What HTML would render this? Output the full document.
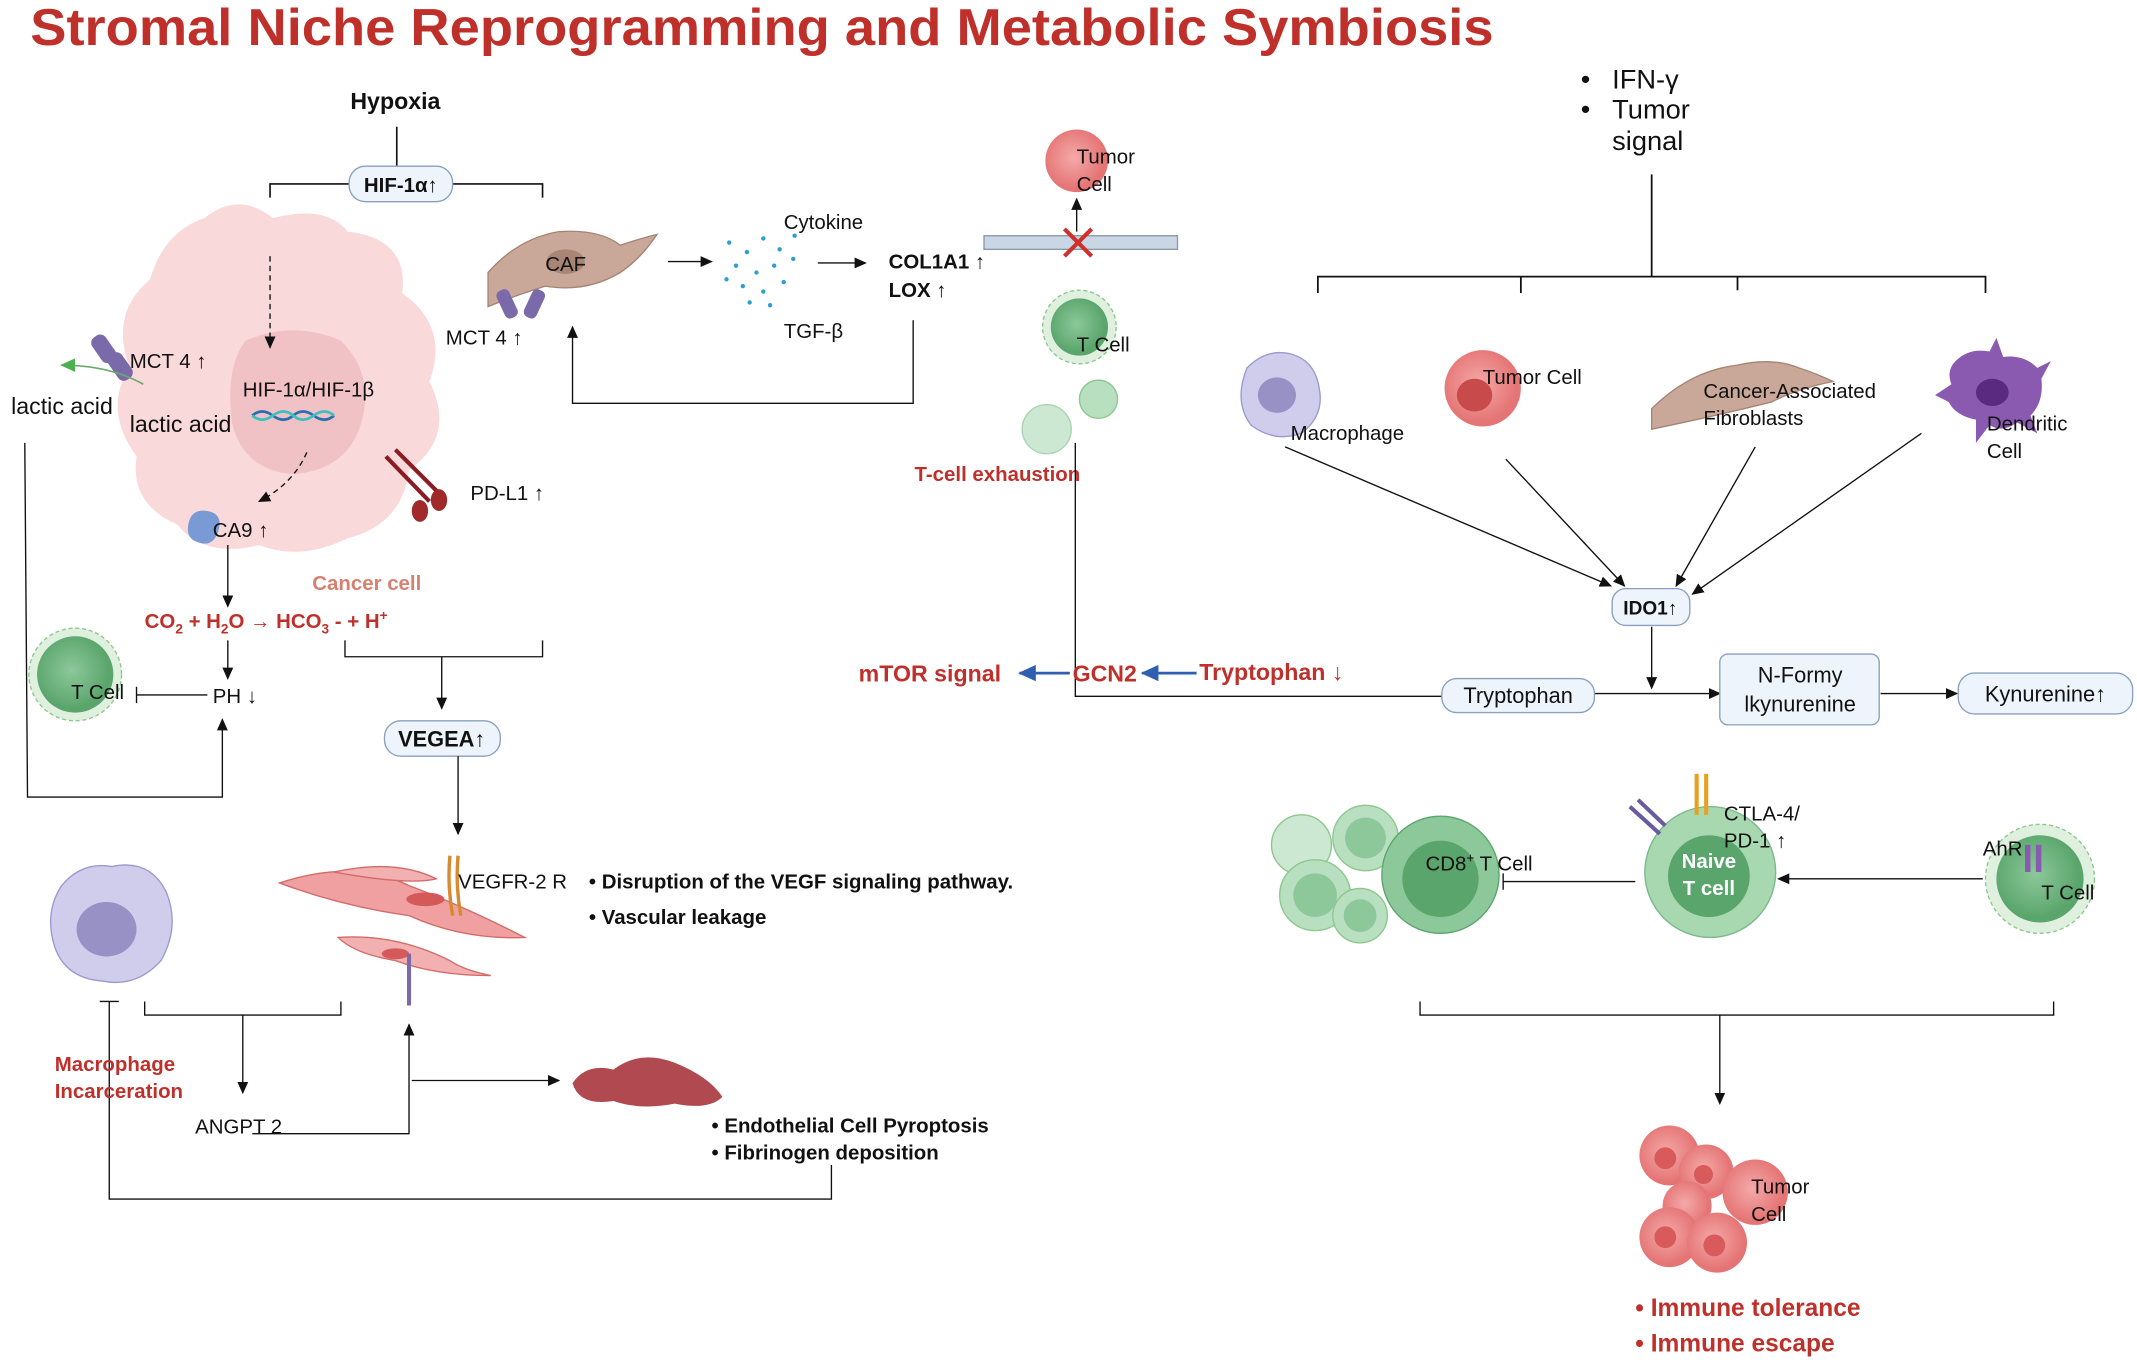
<!DOCTYPE html>
<html><head><meta charset="utf-8"><style>
html,body{margin:0;padding:0;background:#fff;}
svg{display:block;}
text{font-family:"Liberation Sans",sans-serif;fill:#111;}
.b{font-weight:bold;}
.r{fill:#c0302b;}
</style></head><body>
<svg width="2137" height="1368" viewBox="0 0 1568 1004" xmlns="http://www.w3.org/2000/svg">
<defs>
<marker id="a" markerWidth="10" markerHeight="10" refX="8" refY="5" orient="auto" markerUnits="userSpaceOnUse"><path d="M0,1 L9,5 L0,9 z" fill="#111"/></marker>
<marker id="ab" markerWidth="14" markerHeight="12" refX="12" refY="6" orient="auto" markerUnits="userSpaceOnUse"><path d="M0,0 L13,6 L0,12 z" fill="#2f5fb0"/></marker>
<marker id="ag" markerWidth="12" markerHeight="10" refX="10" refY="5" orient="auto" markerUnits="userSpaceOnUse"><path d="M0,0 L11,5 L0,10 z" fill="#4caf50"/></marker>
<radialGradient id="gc" cx="45%" cy="45%"><stop offset="0" stop-color="#8cc89a"/><stop offset="1" stop-color="#5aa56c"/></radialGradient>
<radialGradient id="gp" cx="45%" cy="45%"><stop offset="0" stop-color="#f4a9a9"/><stop offset="1" stop-color="#e57474"/></radialGradient>
</defs>
<text x="22" y="33" font-size="38" class="b r" textLength="1074" lengthAdjust="spacingAndGlyphs">Stromal Niche Reprogramming and Metabolic Symbiosis</text>

<text x="290" y="80" font-size="17" class="b" text-anchor="middle">Hypoxia</text>
<g fill="none" stroke="#111" stroke-width="1.2">
<path d="M291,93 V122 M198,145 V135 H256 M332,135 H398 V145"/>
</g>
<rect x="256" y="122" width="76" height="26" rx="12" fill="#eef4fb" stroke="#8aa0c0"/>
<text x="294" y="141" font-size="15" class="b" text-anchor="middle">HIF-1α↑</text>

<path d="M150,160 Q175,140 200,160 Q240,150 255,170 Q300,175 295,215 Q330,240 315,280 Q335,320 300,345 Q295,385 255,395 Q220,412 190,400 Q150,410 130,385 Q95,370 100,335 Q75,300 95,270 Q80,230 110,205 Q120,170 150,160 z" fill="#f9d9da"/>
<path d="M180,250 Q215,235 250,250 Q275,275 265,310 Q255,345 215,348 Q178,345 170,310 Q165,270 180,250 z" fill="#f0c2c5"/>
<line x1="198" y1="188" x2="198" y2="255" stroke="#111" stroke-dasharray="4,3" marker-end="url(#a)"/>
<text x="178" y="291" font-size="15">HIF-1α/HIF-1β</text>
<path d="M185,305 q7,-6 15,0 t15,0 t15,0 t15,0" fill="none" stroke="#2a6fb0" stroke-width="2"/>
<path d="M185,305 q7,6 15,0 t15,0 t15,0 t15,0" fill="none" stroke="#3cc0c0" stroke-width="2"/>
<path d="M225,332 Q215,355 190,368" fill="none" stroke="#111" stroke-dasharray="4,3" marker-end="url(#a)"/>
<g fill="#7a6aaa"><rect x="70" y="245" width="12" height="22" rx="5" transform="rotate(-35 76 256)"/><rect x="82" y="258" width="12" height="22" rx="5" transform="rotate(-35 88 269)"/></g>
<text x="95" y="270" font-size="15">MCT 4 ↑</text>
<path d="M105,282 Q80,268 45,268" fill="none" stroke="#6aaa6a" stroke-width="1.2" marker-end="url(#ag)"/>
<text x="8" y="304" font-size="17">lactic acid</text>
<text x="95" y="317" font-size="17">lactic acid</text>
<g stroke="#8a1c24" stroke-width="3" fill="none"><path d="M283,335 L315,368 M290,330 L322,362"/></g>
<ellipse cx="308" cy="375" rx="6" ry="8" fill="#a02a2a"/><ellipse cx="322" cy="367" rx="6" ry="8" fill="#a02a2a"/>
<text x="345" y="367" font-size="15">PD-L1 ↑</text>
<path d="M138,385 q2,-12 14,-10 q12,2 8,15 q-4,12 -15,8 q-9,-3 -7,-13z" fill="#7a9ad6"/>
<text x="156" y="394" font-size="15">CA9 ↑</text>
<text x="229" y="433" font-size="15" class="b" style="fill:#d88070">Cancer cell</text>
<line x1="167" y1="400" x2="167" y2="445" stroke="#111" marker-end="url(#a)"/>
<text x="106" y="461" font-size="15" class="b r">CO<tspan font-size="10" dy="4">2</tspan><tspan dy="-4"> + H</tspan><tspan font-size="10" dy="4">2</tspan><tspan dy="-4">O → HCO</tspan><tspan font-size="10" dy="4">3</tspan><tspan dy="-4"> - + H</tspan><tspan font-size="10" dy="-6">+</tspan></text>
<line x1="167" y1="470" x2="167" y2="498" stroke="#111" marker-end="url(#a)"/>
<circle cx="55" cy="495" r="34" fill="#dff0df" stroke="#8cc88c" stroke-dasharray="3,2"/>
<circle cx="55" cy="495" r="28" fill="url(#gc)"/>
<text x="52" y="513" font-size="15">T Cell</text>
<path d="M100,504 V516 M100,510 H152" stroke="#111" fill="none"/>
<text x="156" y="516" font-size="15">PH ↓</text>
<path d="M18,325 L20,585 H163 V528" fill="none" stroke="#111" marker-end="url(#a)"/>
<path d="M253,470 V482 H398 V470 M324,482 V520" fill="none" stroke="#111" marker-end="url(#a)"/>
<rect x="282" y="529" width="85" height="26" rx="12" fill="#eef4fb" stroke="#8aa0c0"/>
<text x="324" y="548" font-size="16" class="b" text-anchor="middle">VEGEA↑</text>
<line x1="336" y1="555" x2="336" y2="612" stroke="#111" marker-end="url(#a)"/>
<path d="M205,648 Q260,630 300,650 Q340,665 385,688 Q340,690 300,672 Q250,665 205,648z" fill="#f0a0a0" stroke="#d46a6a"/>
<path d="M245,640 Q290,630 320,645 Q300,650 245,640z" fill="#f2b0b0" stroke="#d46a6a"/>
<path d="M248,688 Q290,685 330,705 Q340,712 360,716 Q320,716 290,705 Q260,700 248,688z" fill="#f2b0b0" stroke="#d46a6a"/>
<ellipse cx="312" cy="660" rx="14" ry="5" fill="#d45a5a"/><ellipse cx="290" cy="700" rx="10" ry="4" fill="#d45a5a"/>
<path d="M330,628 Q328,650 332,672 M336,628 Q334,650 338,672" stroke="#d88a30" stroke-width="2.5" fill="none"/>
<text x="336" y="652" font-size="15">VEGFR-2 R</text>
<text x="432" y="652" font-size="15" class="b">•   Disruption of the VEGF signaling pathway.</text>
<text x="432" y="678" font-size="15" class="b">•   Vascular leakage</text>
<path d="M45,650 Q60,632 82,636 Q110,630 122,655 Q132,680 118,705 Q100,725 75,720 Q48,718 40,695 Q32,670 45,650z" fill="#cfcdeb" stroke="#9d98cf"/>
<ellipse cx="78" cy="682" rx="22" ry="20" fill="#9791c6"/>
<path d="M73,735 H87 M80,735 V880 H610 V855" fill="none" stroke="#111"/>
<path d="M106,735 V745 H250 V735 M178,745 V802" fill="none" stroke="#111" marker-end="url(#a)"/>
<text x="40" y="786" font-size="15" class="b r">Macrophage</text>
<text x="40" y="806" font-size="15" class="b r">Incarceration</text>
<text x="143" y="832" font-size="15">ANGPT 2</text>
<path d="M185,832 H300 V752" fill="none" stroke="#111" marker-end="url(#a)"/>
<path d="M300,700 V738" stroke="#7a6aaa" stroke-width="3"/>
<line x1="302" y1="793" x2="410" y2="793" stroke="#111" marker-end="url(#a)"/>
<path d="M420,795 Q430,780 450,785 Q470,770 495,780 Q520,790 530,805 Q520,815 495,810 Q470,815 450,808 Q425,812 420,795z" fill="#b04a50"/>
<text x="522" y="831" font-size="15" class="b">•   Endothelial Cell Pyroptosis</text>
<text x="522" y="851" font-size="15" class="b">•   Fibrinogen deposition</text>

<path d="M358,200 Q380,175 410,170 Q440,168 455,180 Q470,175 482,172 Q470,190 455,200 Q430,215 400,210 Q375,218 358,225z" fill="#c9a89a" stroke="#a58474"/>
<ellipse cx="415" cy="192" rx="14" ry="9" fill="#a88575"/>
<text x="400" y="199" font-size="15">CAF</text>
<g fill="#7a6aaa"><rect x="367" y="212" width="10" height="22" rx="4" transform="rotate(-25 372 223)"/><rect x="387" y="212" width="10" height="22" rx="4" transform="rotate(25 392 223)"/></g>
<text x="327" y="253" font-size="15">MCT 4 ↑</text>
<line x1="490" y1="192" x2="522" y2="192" stroke="#111" marker-end="url(#a)"/>
<g fill="#2a9fd0">
<circle cx="535" cy="178" r="1.6"/><circle cx="548" cy="185" r="1.6"/><circle cx="560" cy="175" r="1.6"/><circle cx="572" cy="183" r="1.6"/><circle cx="540" cy="195" r="1.6"/><circle cx="555" cy="200" r="1.6"/><circle cx="568" cy="195" r="1.6"/><circle cx="582" cy="190" r="1.6"/><circle cx="545" cy="210" r="1.6"/><circle cx="560" cy="214" r="1.6"/><circle cx="575" cy="207" r="1.6"/><circle cx="533" cy="205" r="1.6"/><circle cx="565" cy="224" r="1.6"/><circle cx="583" cy="173" r="1.6"/><circle cx="550" cy="222" r="1.6"/>
</g>
<text x="575" y="168" font-size="15">Cytokine</text>
<text x="575" y="248" font-size="15">TGF-β</text>
<line x1="600" y1="193" x2="635" y2="193" stroke="#111" marker-end="url(#a)"/>
<text x="652" y="197" font-size="15" class="b">COL1A1 ↑</text>
<text x="652" y="218" font-size="15" class="b">LOX ↑</text>
<path d="M670,235 V296 H420 V240" fill="none" stroke="#111" marker-end="url(#a)"/>
<rect x="722" y="173" width="142" height="10" fill="#c9d6e3" stroke="#8a9aab"/>
<path d="M781,168 L801,188 M801,168 L781,188" stroke="#d0302b" stroke-width="3"/>
<circle cx="790" cy="118" r="23" fill="url(#gp)"/>
<text x="790" y="120" font-size="15">Tumor</text><text x="790" y="140" font-size="15">Cell</text>
<line x1="790" y1="170" x2="790" y2="146" stroke="#111" marker-end="url(#a)"/>
<circle cx="792" cy="240" r="27" fill="#dff0df" stroke="#8cc88c" stroke-dasharray="3,2"/>
<circle cx="792" cy="240" r="21" fill="url(#gc)"/>
<text x="790" y="258" font-size="15">T Cell</text>
<circle cx="768" cy="315" r="18" fill="#cde8d2" stroke="#a8d4b0"/>
<circle cx="806" cy="293" r="14" fill="#b8dfc0" stroke="#8cc88c"/>
<text x="671" y="353" font-size="15" class="b r">T-cell exhaustion</text>
<path d="M789,325 V511 H1058" fill="none" stroke="#111"/>
<text x="630" y="500" font-size="17" class="b r">mTOR signal</text>
<line x1="785" y1="494" x2="748" y2="494" stroke="#2f5fb0" stroke-width="2" marker-end="url(#ab)"/>
<text x="787" y="500" font-size="17" class="b r">GCN2</text>
<line x1="878" y1="494" x2="838" y2="494" stroke="#2f5fb0" stroke-width="2" marker-end="url(#ab)"/>
<text x="880" y="499" font-size="17" class="b r">Tryptophan ↓</text>

<text x="1160" y="65" font-size="20">•</text><text x="1183" y="65" font-size="20">IFN-γ</text>
<text x="1160" y="87" font-size="20">•</text><text x="1183" y="87" font-size="20">Tumor</text>
<text x="1183" y="110" font-size="20">signal</text>
<path d="M1212,128 V203 M967,215 V203 H1457 V215 M1116,203 V215 M1275,203 V213" fill="none" stroke="#111" stroke-width="1.3"/>
<path d="M915,270 Q930,255 948,260 Q965,265 968,285 Q972,305 955,318 Q935,325 918,312 Q905,295 915,270z" fill="#cfcdeb" stroke="#9d98cf"/>
<ellipse cx="937" cy="290" rx="14" ry="13" fill="#9791c6"/>
<text x="947" y="323" font-size="15">Macrophage</text>
<circle cx="1088" cy="285" r="28" fill="url(#gp)"/>
<ellipse cx="1082" cy="290" rx="13" ry="12" fill="#c84a4a"/>
<text x="1088" y="282" font-size="15">Tumor Cell</text>
<path d="M1212,300 Q1240,272 1275,268 Q1300,262 1320,270 Q1335,275 1345,280 Q1320,285 1300,295 Q1260,305 1212,315z" fill="#c9a89a" stroke="#a58474"/>
<text x="1250" y="292" font-size="15">Cancer-Associated</text>
<text x="1250" y="312" font-size="15">Fibroblasts</text>
<path d="M1435,265 Q1445,255 1460,258 L1465,248 L1470,262 Q1485,260 1495,270 L1505,265 L1498,278 Q1500,295 1490,305 L1495,318 L1480,310 Q1470,318 1460,312 L1450,325 L1450,308 Q1435,305 1430,295 L1420,290 L1432,282 Q1428,272 1435,265z" fill="#8a5ab0"/>
<ellipse cx="1462" cy="288" rx="12" ry="10" fill="#5a2a80"/>
<text x="1458" y="316" font-size="15">Dendritic</text>
<text x="1458" y="336" font-size="15">Cell</text>
<g stroke="#111" fill="none" marker-end="url(#a)">
<line x1="943" y1="328" x2="1182" y2="430"/>
<line x1="1105" y1="337" x2="1192" y2="430"/>
<line x1="1288" y1="328" x2="1230" y2="430"/>
<line x1="1410" y1="318" x2="1242" y2="436"/>
<line x1="1212" y1="460" x2="1212" y2="505"/>
<line x1="1170" y1="509" x2="1262" y2="509"/>
<line x1="1380" y1="509" x2="1436" y2="509"/>
<line x1="1455" y1="645" x2="1305" y2="645"/>
<line x1="1262" y1="745" x2="1262" y2="810"/>
</g>
<rect x="1183" y="432" width="57" height="27" rx="10" fill="#eef4fb" stroke="#8aa0c0"/>
<text x="1211" y="451" font-size="14" class="b" text-anchor="middle">IDO1↑</text>
<rect x="1058" y="498" width="112" height="25" rx="11" fill="#eef4fb" stroke="#8aa0c0"/>
<text x="1114" y="516" font-size="16" text-anchor="middle">Tryptophan</text>
<rect x="1262" y="480" width="117" height="52" rx="6" fill="#eef4fb" stroke="#8aa0c0"/>
<text x="1321" y="501" font-size="16" text-anchor="middle">N-Formy</text>
<text x="1321" y="522" font-size="16" text-anchor="middle">lkynurenine</text>
<rect x="1437" y="494" width="128" height="30" rx="12" fill="#eef4fb" stroke="#8aa0c0"/>
<text x="1501" y="515" font-size="16" text-anchor="middle">Kynurenine↑</text>
<g stroke="#8cc88c" fill="#b8dfc0">
<circle cx="955" cy="620" r="22" fill="#cde8d2"/>
<circle cx="1002" cy="615" r="24"/>
<circle cx="965" cy="657" r="26"/>
<circle cx="998" cy="672" r="20"/>
</g>
<g fill="#8cc89a"><circle cx="1002" cy="615" r="15"/><circle cx="965" cy="657" r="16"/><circle cx="998" cy="672" r="12"/></g>
<circle cx="1057" cy="642" r="43" fill="#8cc89a" stroke="#5aa56c"/>
<circle cx="1057" cy="645" r="28" fill="#5aa56c"/>
<text x="1046" y="639" font-size="15">CD8<tspan font-size="10" dy="-6">+</tspan><tspan dy="6"> T Cell</tspan></text>
<path d="M1103,641 V653 M1103,647 H1200" fill="none" stroke="#111"/>
<circle cx="1255" cy="640" r="48" fill="#a8d8b0" stroke="#7ab88a"/>
<circle cx="1254" cy="643" r="30" fill="#5aa56c"/>
<text x="1254" y="637" font-size="15" class="b" text-anchor="middle" style="fill:#fff">Naive</text>
<text x="1254" y="657" font-size="15" class="b" text-anchor="middle" style="fill:#fff">T cell</text>
<path d="M1245,568 V598 M1252,568 V598" stroke="#e8a020" stroke-width="3"/>
<path d="M1196,592 L1218,612 M1202,587 L1222,606" stroke="#6a5aa0" stroke-width="3"/>
<text x="1265" y="602" font-size="15">CTLA-4/</text>
<text x="1265" y="622" font-size="15">PD-1 ↑</text>
<circle cx="1497" cy="645" r="40" fill="#dff0df" stroke="#8cc88c" stroke-dasharray="3,2"/>
<circle cx="1497" cy="645" r="32" fill="url(#gc)"/>
<path d="M1488,620 V640 M1496,620 V640" stroke="#8a5ab0" stroke-width="4"/>
<text x="1455" y="628" font-size="15">AhR</text>
<text x="1498" y="660" font-size="15">T Cell</text>
<path d="M1042,735 V745 H1507 V735" fill="none" stroke="#111"/>
<g fill="url(#gp)">
<circle cx="1225" cy="848" r="22"/><circle cx="1252" cy="860" r="20"/><circle cx="1288" cy="875" r="24"/><circle cx="1238" cy="885" r="18"/><circle cx="1225" cy="908" r="22"/><circle cx="1260" cy="912" r="22"/>
</g>
<g fill="#d85a5a"><circle cx="1222" cy="850" r="8"/><circle cx="1250" cy="862" r="7"/><circle cx="1222" cy="908" r="8"/><circle cx="1258" cy="914" r="8"/></g>
<text x="1285" y="876" font-size="15">Tumor</text><text x="1285" y="896" font-size="15">Cell</text>
<text x="1200" y="966" font-size="18" class="b r">•  Immune tolerance</text>
<text x="1200" y="992" font-size="18" class="b r">•  Immune escape</text>
</svg>
</body></html>
